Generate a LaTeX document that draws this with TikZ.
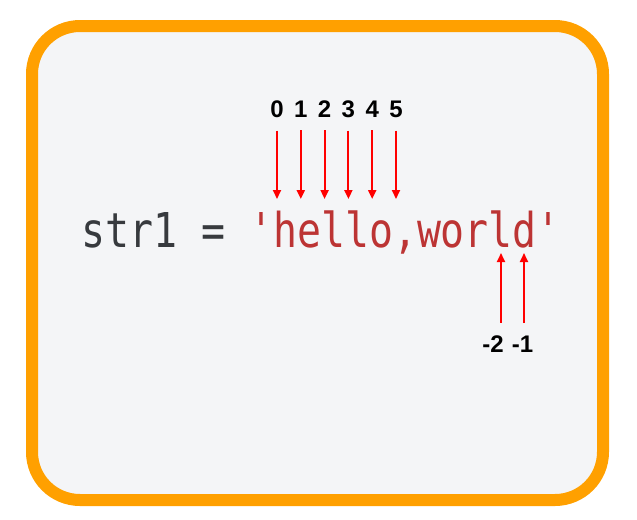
\documentclass[tikz,border=0pt]{standalone}
\usepackage{fontspec}
\setmainfont{Liberation Sans}
\newfontfamily\codefont{DejaVu Sans Mono}
\usetikzlibrary{arrows.meta}

\definecolor{frameorange}{RGB}{255,160,0}
\definecolor{panelgray}{RGB}{244,245,247}
\definecolor{codegray}{RGB}{55,58,62}
\definecolor{strred}{RGB}{188,52,52}
\definecolor{arrowred}{RGB}{255,0,0}

\tikzset{
  idxlabel/.style={inner sep=0pt,anchor=base,font=\fontsize{18}{20}\selectfont\bfseries},
  idxarrow/.style={draw=arrowred,line width=1.5pt,-{Triangle[length=6.75pt,width=6pt]}}
}

\begin{document}
\begin{tikzpicture}[x=0.75pt,y=0.75pt,yscale=-1,xscale=1]
\useasboundingbox (0,0) rectangle (637,519);

%Shape: Rounded Rectangle [id:frame]
\draw [draw=frameorange,line width=9pt,fill=panelgray,rounded corners=36pt] (32,26) rectangle (603,500);

% Text Node
\node (code) [anchor=base west,inner sep=0pt,xscale=0.83,font=\codefont\fontsize{36}{40}\selectfont] at (81,247) {\textcolor{codegray}{str1 =} \textcolor{strred}{'hello,world'}};

% Text Node
\node (p0) [idxlabel] at (277,117) {0};
% Text Node
\node (p1) [idxlabel] at (300.8,117) {1};
% Text Node
\node (p2) [idxlabel] at (324.6,117) {2};
% Text Node
\node (p3) [idxlabel] at (348.4,117) {3};
% Text Node
\node (p4) [idxlabel] at (372.2,117) {4};
% Text Node
\node (p5) [idxlabel] at (396,117) {5};
% Text Node
\node (n2) [idxlabel] at (493,352) {-2};
% Text Node
\node (n1) [idxlabel] at (522.5,352) {-1};

% arrow tips
\coordinate (t0) at (277,199);
\coordinate (t1) at (300.8,199);
\coordinate (t2) at (324.6,199);
\coordinate (t3) at (348.4,199);
\coordinate (t4) at (372.2,199);
\coordinate (t5) at (396,199);
\coordinate (tn2) at (501,253);
\coordinate (tn1) at (524,253);

%Straight Lines
\draw [idxarrow] (p0.south) ++(0,13) -- (t0);
\draw [idxarrow] (p1.south) ++(0,13) -- (t1);
\draw [idxarrow] (p2.south) ++(0,13) -- (t2);
\draw [idxarrow] (p3.south) ++(0,13) -- (t3);
\draw [idxarrow] (p4.south) ++(0,13) -- (t4);
\draw [idxarrow] (p5.south) ++(0,13) -- (t5);

%Straight Lines
\draw [idxarrow] (n2.north -| tn2) ++(0,-12) -- (tn2);
\draw [idxarrow] (n1.north -| tn1) ++(0,-12) -- (tn1);

\end{tikzpicture}
\end{document}
